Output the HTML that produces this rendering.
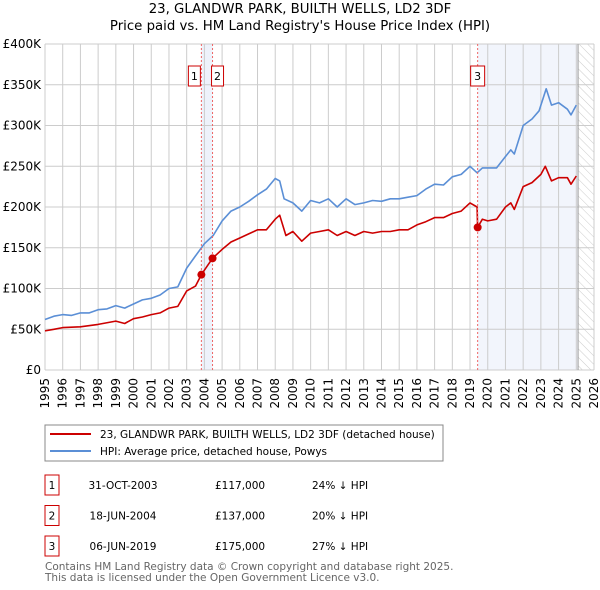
<!DOCTYPE html>
<html><head><meta charset="utf-8"><style>
body{margin:0;background:#fff;}
svg{display:block;font-family:"DejaVu Sans","Liberation Sans",sans-serif;}
</style></head><body>
<svg id="c" width="600" height="590" viewBox="0 0 600 590">
<defs><pattern id="hatch" width="6" height="6" patternUnits="userSpaceOnUse" patternTransform="rotate(-45)"><line x1="0" y1="0" x2="0" y2="6" stroke="#ccc" stroke-width="1"/></pattern></defs>
<text x="300" y="13" text-anchor="middle" font-size="13.3">23, GLANDWR PARK, BUILTH WELLS, LD2 3DF</text>
<text x="300" y="30" text-anchor="middle" font-size="13.3">Price paid vs. HM Land Registry's House Price Index (HPI)</text>
<g id="grid"></g><g id="axes"></g><g id="series"></g><g id="marks"></g>
<rect x="45" y="425" width="398" height="36" fill="#fff" stroke="#888"/>
<line x1="50" y1="434" x2="91" y2="434" stroke="#cc0000" stroke-width="2"/>
<text x="100" y="438" font-size="10.5">23, GLANDWR PARK, BUILTH WELLS, LD2 3DF (detached house)</text>
<line x1="50" y1="451" x2="91" y2="451" stroke="#5b8fd6" stroke-width="2"/>
<text x="100" y="455" font-size="10.5">HPI: Average price, detached house, Powys</text>
<g font-size="10.5" id="table"></g>
<text x="45" y="570" font-size="10.5" fill="#666">Contains HM Land Registry data © Crown copyright and database right 2025.</text>
<text x="45" y="581" font-size="10.5" fill="#666">This data is licensed under the Open Government Licence v3.0.</text>
</svg>
<script>
const hpiYears=[1995,1995.5,1996,1996.5,1997,1997.5,1998,1998.5,1999,1999.5,2000,2000.5,2001,2001.5,2002,2002.5,2003,2003.5,2004,2004.5,2005,2005.5,2006,2006.5,2007,2007.5,2008,2008.25,2008.5,2009,2009.5,2010,2010.5,2011,2011.5,2012,2012.5,2013,2013.5,2014,2014.5,2015,2015.5,2016,2016.5,2017,2017.5,2018,2018.5,2019,2019.4,2019.7,2020,2020.5,2021,2021.3,2021.5,2022,2022.5,2022.9,2023,2023.3,2023.6,2024,2024.5,2024.7,2025];
const hpiValues=[62,66,68,67,70,70,74,75,79,76,81,86,88,92,100,102,125,140,155,165,183,195,200,207,215,222,235,232,210,205,195,208,205,210,200,210,203,205,208,207,210,210,212,214,222,228,227,237,240,250,242,248,248,248,262,270,265,300,308,318,325,345,325,328,320,313,325];
const ppYears=[1995,1995.5,1996,1997,1998,1999,1999.5,2000,2000.5,2001,2001.5,2002,2002.5,2003,2003.5,2003.83,2004.46,2005,2005.5,2006,2006.5,2007,2007.5,2008,2008.25,2008.6,2009,2009.5,2010,2010.5,2011,2011.5,2012,2012.5,2013,2013.5,2014,2014.5,2015,2015.5,2016,2016.5,2017,2017.5,2018,2018.5,2019,2019.4,2019.43,2019.7,2020,2020.5,2021,2021.3,2021.5,2022,2022.5,2023,2023.25,2023.6,2024,2024.5,2024.7,2025];
const ppValues=[48,50,52,53,56,60,57,63,65,68,70,76,78,97,103,117,137,148,157,162,167,172,172,185,190,165,170,158,168,170,172,165,170,165,170,168,170,170,172,172,178,182,187,187,192,195,205,200,175,185,183,185,200,205,197,225,230,240,250,232,236,236,228,238];
const saleLabels=["1","2","3"];
const saleYears=[2003.83,2004.46,2019.43];
const saleValues=[117,137,175];
const saleDates=["31-OCT-2003","18-JUN-2004","06-JUN-2019"];
const salePrices=["£117,000","£137,000","£175,000"];
const saleDiffs=["24% ↓ HPI","20% ↓ HPI","27% ↓ HPI"];
const yTicks=[0,50,100,150,200,250,300,350,400];
const yTickLabels=["£0","£50K","£100K","£150K","£200K","£250K","£300K","£350K","£400K"];
const xTicks=[1995,1996,1997,1998,1999,2000,2001,2002,2003,2004,2005,2006,2007,2008,2009,2010,2011,2012,2013,2014,2015,2016,2017,2018,2019,2020,2021,2022,2023,2024,2025,2026];

const X0=45,X1=594,Y0=370,Y1=44;
const xs=v=>X0+(v-1995)/(2026-1995)*(X1-X0);
const ys=v=>Y0-v/400*(Y0-Y1);
const NS="http://www.w3.org/2000/svg";
function mk(p,tag,a){const e=document.createElementNS(NS,tag);for(const k in a)e.setAttribute(k,a[k]);p.appendChild(e);return e;}
const grid=document.getElementById('grid'),axes=document.getElementById('axes'),ser=document.getElementById('series'),marks=document.getElementById('marks'),tbl=document.getElementById('table');
let r=mk(grid,'rect',{x:xs(saleYears[0]),y:Y1,width:xs(saleYears[1])-xs(saleYears[0]),height:Y0-Y1,fill:'#eef2fb'});


r=mk(grid,'rect',{x:xs(saleYears[2]),y:Y1,width:xs(2025.1)-xs(saleYears[2]),height:Y0-Y1,fill:'#f2f5fc'});


r=mk(grid,'rect',{x:xs(2025.1),y:Y1,width:X1-xs(2025.1),height:Y0-Y1,fill:'url(#hatch)'});


yTicks.forEach((t,i)=>{
 const l=mk(grid,'line',{x1:X0,x2:X1,y1:ys(t),y2:ys(t),stroke:'#ccc','stroke-width':1});
 
 
 const tx=mk(axes,'text',{x:X0-4,y:ys(t)+4,'text-anchor':'end','font-size':12});
 tx.textContent=yTickLabels[i];
 
 
});
xTicks.forEach(t=>{
 const l=mk(grid,'line',{x1:xs(t),x2:xs(t),y1:Y1,y2:Y0,stroke:'#ccc','stroke-width':1});
 
 
 const tx=mk(axes,'text',{x:0,y:0,'text-anchor':'end','font-size':12,transform:`translate(${xs(t)+4},${Y0+8}) rotate(-90)`});
 tx.textContent=t;
 
 
});
const vl=mk(grid,'line',{x1:xs(2025.1),x2:xs(2025.1),y1:Y1,y2:Y0,stroke:'#999','stroke-width':1});


function path(xa,va,col,name){
 const d=xa.map((x,i)=>(i?'L':'M')+xs(x).toFixed(1)+','+ys(va[i]).toFixed(1)).join('');
 const p=mk(ser,'path',{d:d,fill:'none',stroke:col,'stroke-width':1.6,'stroke-linejoin':'round'});
 
 
}
path(hpiYears,hpiValues,'#5b8fd6','hpi-line');
path(ppYears,ppValues,'#cc0000','price-paid-line');
saleYears.forEach((y,i)=>{
 const l=mk(marks,'line',{x1:xs(y),x2:xs(y),y1:Y1,y2:Y0,stroke:'#e66','stroke-width':1,'stroke-dasharray':'2,2'});
 
 
 const c=mk(marks,'circle',{cx:xs(y),cy:ys(saleValues[i]),r:4,fill:'#cc0000'});
 
 
 const bx=i==0?xs(y)-13:(i==1?xs(y)-1:xs(y)-7);
 const b=mk(marks,'rect',{x:bx,y:66,width:i==2?14:12,height:20,fill:'#fff',stroke:'#cc0000'});
 
 
 const t=mk(marks,'text',{x:bx+(i==2?7:6),y:80,'text-anchor':'middle','font-size':11});
 t.textContent=saleLabels[i];
 
 
 const ry=475+i*30.5;
 const tb=mk(tbl,'rect',{x:45,y:ry,width:14,height:20,fill:'#fff',stroke:'#cc0000'});
 
 
 const cells=[[52,saleLabels[i],'middle'],[123,saleDates[i],'middle'],[215,salePrices[i],'start'],[312,saleDiffs[i],'start']];
 const nm=['table-index','sale-date','sale-price','hpi-diff'];
 cells.forEach((c,j)=>{
  const e=mk(tbl,'text',{x:c[0],y:ry+14,'text-anchor':c[2]});
  e.textContent=c[1];
  
  
 });
});
</script>
</body></html>
